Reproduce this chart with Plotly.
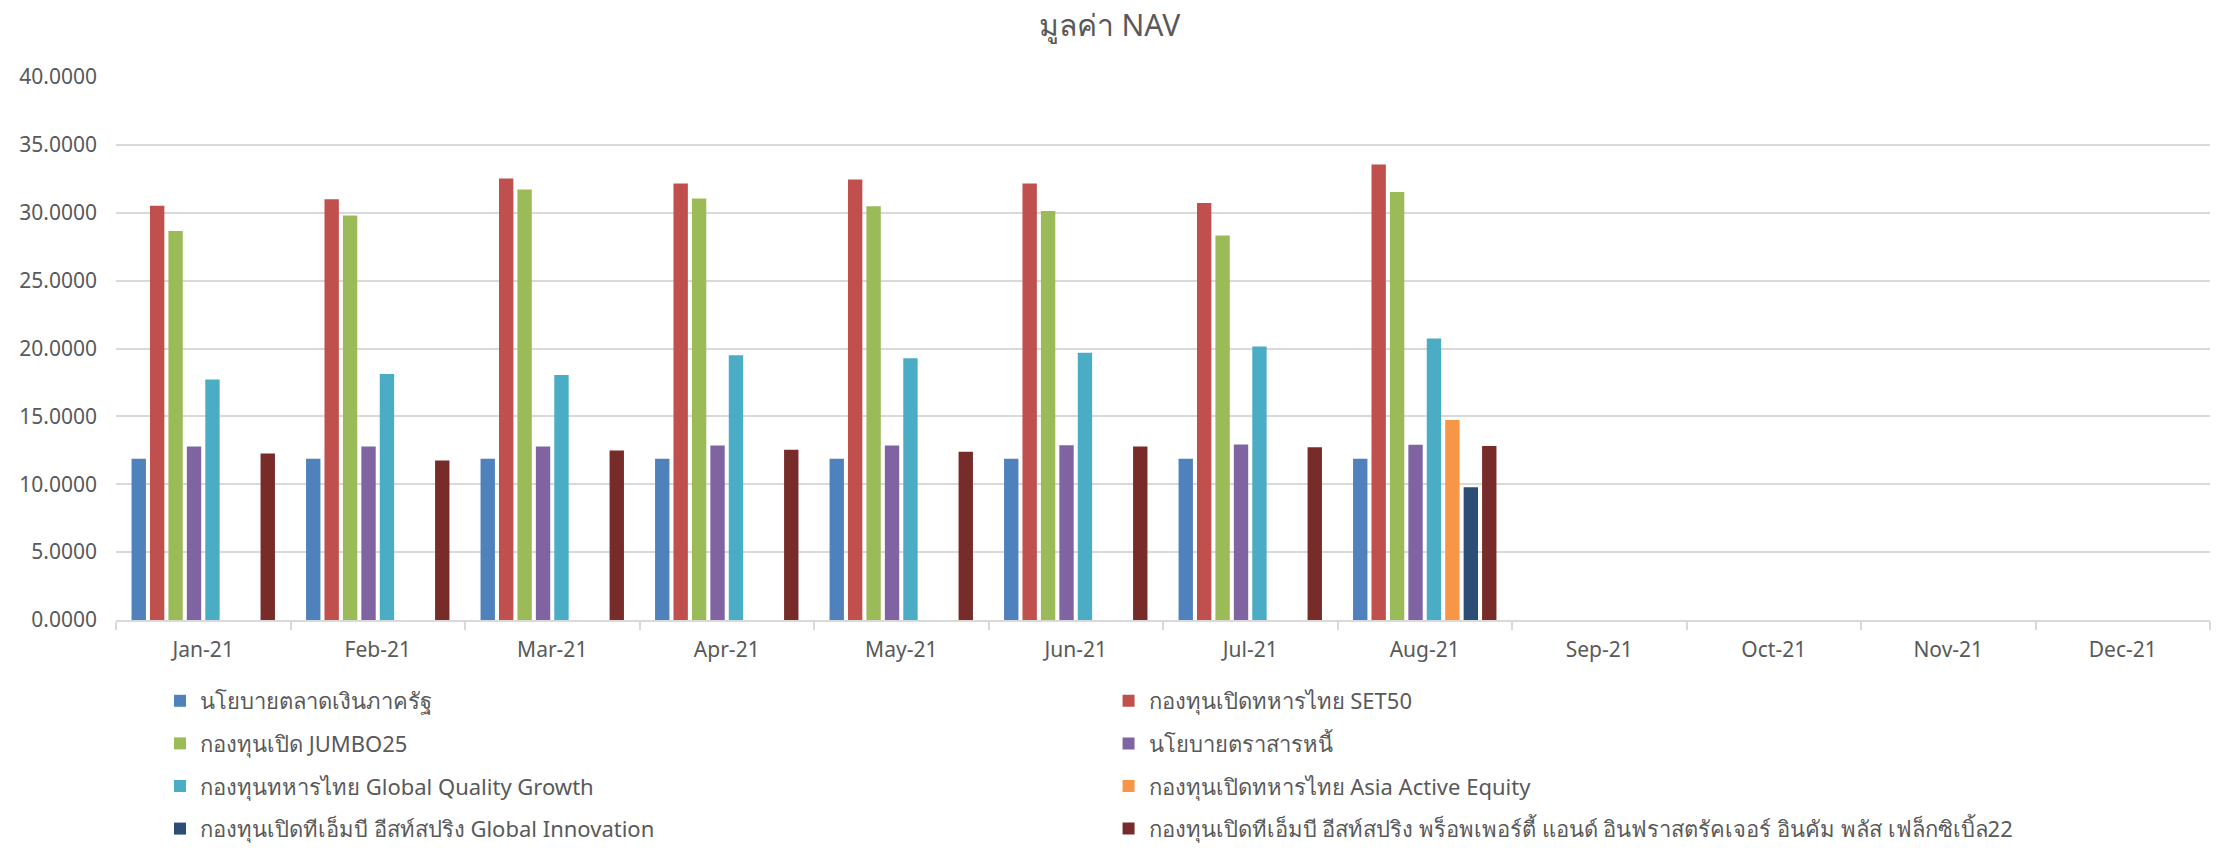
import plotly.graph_objects as go

# ── Data ──────────────────────────────────────────────────────────────────────
MONTHS = ['Jan-21', 'Feb-21', 'Mar-21', 'Apr-21', 'May-21', 'Jun-21',
          'Jul-21', 'Aug-21', 'Sep-21', 'Oct-21', 'Nov-21', 'Dec-21']

N = None
MONEY_MKT   = [11.87, 11.87, 11.87, 11.87, 11.87, 11.87, 11.87, 11.87, N, N, N, N]
SET50       = [30.51, 31.00, 32.52, 32.16, 32.45, 32.16, 30.71, 33.55, N, N, N, N]
JUMBO25     = [28.65, 29.80, 31.72, 31.05, 30.47, 30.12, 28.33, 31.52, N, N, N, N]
FIXED_INC   = [12.78, 12.78, 12.78, 12.86, 12.86, 12.88, 12.93, 12.91, N, N, N, N]
GQG         = [17.71, 18.13, 18.05, 19.51, 19.29, 19.68, 20.15, 20.74, N, N, N, N]
ASIA_ACTIVE = [N, N, N, N, N, N, N, 14.73, N, N, N, N]
GLOBAL_INNO = [N, N, N, N, N, N, N, 9.78, N, N, N, N]
PROPERTY22  = [12.27, 11.75, 12.49, 12.54, 12.39, 12.78, 12.73, 12.81, N, N, N, N]

SERIES = [
    ('นโยบายตลาดเงินภาครัฐ', MONEY_MKT, '#4F81BD'),
    ('กองทุนเปิดทหารไทย SET50', SET50, '#C0504D'),
    ('กองทุนเปิด JUMBO25', JUMBO25, '#9BBB59'),
    ('นโยบายตราสารหนี้', FIXED_INC, '#8064A2'),
    ('กองทุนทหารไทย Global Quality Growth', GQG, '#4BACC6'),
    ('กองทุนเปิดทหารไทย Asia Active Equity', ASIA_ACTIVE, '#F79646'),
    ('กองทุนเปิดทีเอ็มบี อีสท์สปริง Global Innovation', GLOBAL_INNO, '#2C4D75'),
    ('กองทุนเปิดทีเอ็มบี อีสท์สปริง พร็อพเพอร์ตี้ แอนด์ อินฟราสตรัคเจอร์ อินคัม พลัส เฟล็กซิเบิ้ล22',
     PROPERTY22, '#772C2A'),
]

# ── Style ─────────────────────────────────────────────────────────────────────
TEXT = '#595959'
GRID = '#D9D9D9'
FONT = 'Noto Sans, sans-serif'

fig = go.Figure()
for i, (name, vals, color) in enumerate(SERIES):
    fig.add_trace(go.Bar(
        x=MONTHS, y=vals, name=name,
        marker=dict(color=color, line=dict(width=0)),
        legend='legend' if i % 2 == 0 else 'legend2',
        legendgroup=f'g{i}',
    ))

# two vertical legends side by side = the 2-column legend under the chart
legend_common = dict(
    orientation='v',
    yref='container',
    yanchor='top',
    y=0.2,
    tracegroupgap=11,
    font=dict(size=22, color=TEXT, family=FONT),
    bgcolor='rgba(0,0,0,0)',
)

fig.update_layout(
    width=2219, height=850,
    title=dict(text='มูลค่า NAV', x=0.5, xanchor='center', y=0.97, yanchor='middle',
               font=dict(size=30, color=TEXT, family=FONT)),
    paper_bgcolor='white', plot_bgcolor='white',
    font=dict(family=FONT, color=TEXT),
    margin=dict(l=116, r=9, t=77, b=230, autoexpand=False),
    barmode='group', bargap=0.155, bargroupgap=0.22,
    legend=dict(x=0.021, xanchor='left', **legend_common),
    legend2=dict(x=0.474, xanchor='left', **legend_common),
)
fig.update_xaxes(
    showgrid=False, showline=True, linecolor=GRID, linewidth=2,
    ticks='outside', tickson='boundaries', tickcolor=GRID, ticklen=8, tickwidth=2,
    ticklabelstandoff=10,
    tickfont=dict(size=21, color=TEXT, family=FONT),
)
fig.update_yaxes(
    range=[0, 40], dtick=5, tickformat='.4f',
    showgrid=True, gridcolor=GRID, gridwidth=2, zeroline=False,
    showline=False, ticklabelstandoff=18,
    tickfont=dict(size=21, color=TEXT, family=FONT),
)

fig.write_html('out.html', config={'displayModeBar': False},
               post_script="document.body.style.margin='0';")
